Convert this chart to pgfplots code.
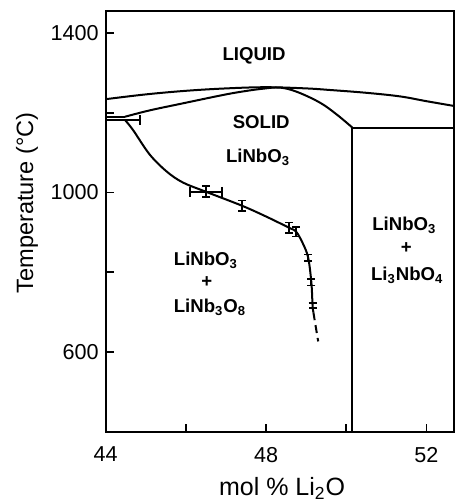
\documentclass[border=0pt]{standalone}
\usepackage{fontspec}
\setmainfont{Liberation Sans}
\usepackage{pgfplots}
\pgfplotsset{compat=1.18}
\newcommand{\lab}{\fontsize{9.3}{11}\selectfont\bfseries}
\begin{document}
\begin{tikzpicture}
\begin{axis}[
  name=ax,
  scale only axis,
  width=174.2pt, height=210.5pt,
  xmin=44, xmax=52.69, ymin=400, ymax=1455,
  axis line style={line width=1pt},
  tick pos=left,
  tick align=inside,
  major tick length=4pt,
  every tick/.style={line width=0.9pt, black},
  xtick={44,46,48,50,52}, xticklabels={44,,48,,52},
  ytick={600,800,1000,1200,1400}, yticklabels={600,,1000,,1400},
  /pgf/number format/assume math mode=true,
  tick label style={font=\fontsize{10.8}{12}\selectfont},
  xticklabel style={yshift=-4pt},
  xlabel={mol \% Li\textsubscript{2}O},
  ylabel={Temperature (°C)},
  every axis x label/.style={at={(axis cs:48.4,242)}, anchor=base, font=\fontsize{12.5}{14}\selectfont},
  every axis y label/.style={at={(axis cs:42.19,974)}, anchor=base, rotate=90, font=\fontsize{11.8}{14}\selectfont},
  clip=false,
]
% liquidus
\addplot[black, line width=1pt, smooth, tension=0.6] coordinates {
 (44,1234) (45,1246) (46,1255) (47,1261) (48,1264) (49,1261) (49.6,1257) (50.5,1250) (51.34,1241) (52,1229) (52.69,1217)};
% solidus dome
\addplot[black, line width=1pt, smooth, tension=0.6] coordinates {
 (44.48,1190) (45.1,1206) (45.85,1222) (46.9,1244) (47.4,1253) (47.9,1260) (48.35,1263) (48.78,1252) (49.35,1225) (49.77,1195) (50.15,1163)};
% eutectic short line
\addplot[black, line width=1pt] coordinates {(44,1190) (44.48,1190)};
% vertical boundary and horizontal line
\addplot[black, line width=1pt] coordinates {(50.15,400) (50.15,1163) (52.69,1163)};
% solvus
\addplot[black, line width=1pt, smooth, tension=0.55] coordinates {
 (44.48,1182) (44.68,1157) (45.1,1095) (45.53,1052) (45.93,1025) (46.5,1002) (47.4,967) (48.0,940) (48.57,912) (48.75,902) (48.92,872) (49.05,837) (49.13,775) (49.16,717) (49.18,700)};
\addplot[black, line width=1pt, dash pattern=on 4pt off 2.5pt] coordinates {(49.18,700) (49.3,627)};
% eutectic error bar
\addplot[black, line width=0.9pt, draw=none, mark=none,
  error bars/.cd, x dir=both, x explicit, error bar style={line width=0.9pt}, error mark options={black, line width=0.9pt, mark size=2.5pt, rotate=90}]
  coordinates {(44.48,1182) += (0.37,0) -= (0.48,0)};
% x error bar at 1000
\addplot[black, draw=none, mark=none,
  error bars/.cd, x dir=both, x explicit, error bar style={line width=0.9pt}, error mark options={black, line width=0.9pt, mark size=2.5pt, rotate=90}]
  coordinates {(46.5,1002) +- (0.4,0)};
% y error bars
\addplot[black, draw=none, mark=none,
  error bars/.cd, y dir=both, y explicit, error bar style={line width=0.9pt}, error mark options={black, line width=0.9pt, mark size=2pt, rotate=90}]
  coordinates {
  (46.5,1002) +- (0,14)
  (47.4,967) +- (0,13)
  (48.57,912) +- (0,13)
  (48.75,902) +- (0,12)
  (49.05,837) +- (0,8)
  (49.13,775) +- (0,8)
  (49.16,717) +- (0,7)
  };
% labels
\node[font=\lab] at (axis cs:47.7,1342) {LIQUID};
\node[font=\lab] at (axis cs:47.88,1177) {SOLID};
\node[font=\lab] at (axis cs:47.8,1088) {LiNbO\textsubscript{3}};
\node[font=\lab] at (axis cs:46.5,830) {LiNbO\textsubscript{3}};
\node[font=\lab] at (axis cs:46.52,777) {+};
\node[font=\lab] at (axis cs:46.6,713) {LiNb\textsubscript{3}O\textsubscript{8}};
\node[font=\lab] at (axis cs:51.45,918) {LiNbO\textsubscript{3}};
\node[font=\lab] at (axis cs:51.5,860) {+};
\node[font=\lab] at (axis cs:51.52,793) {Li\textsubscript{3}NbO\textsubscript{4}};
\end{axis}
\pgfresetboundingbox
\path ([xshift=-52.85pt,yshift=-35.5pt]ax.south west) rectangle ([yshift=5.5pt]ax.north east);
\end{tikzpicture}
\end{document}
